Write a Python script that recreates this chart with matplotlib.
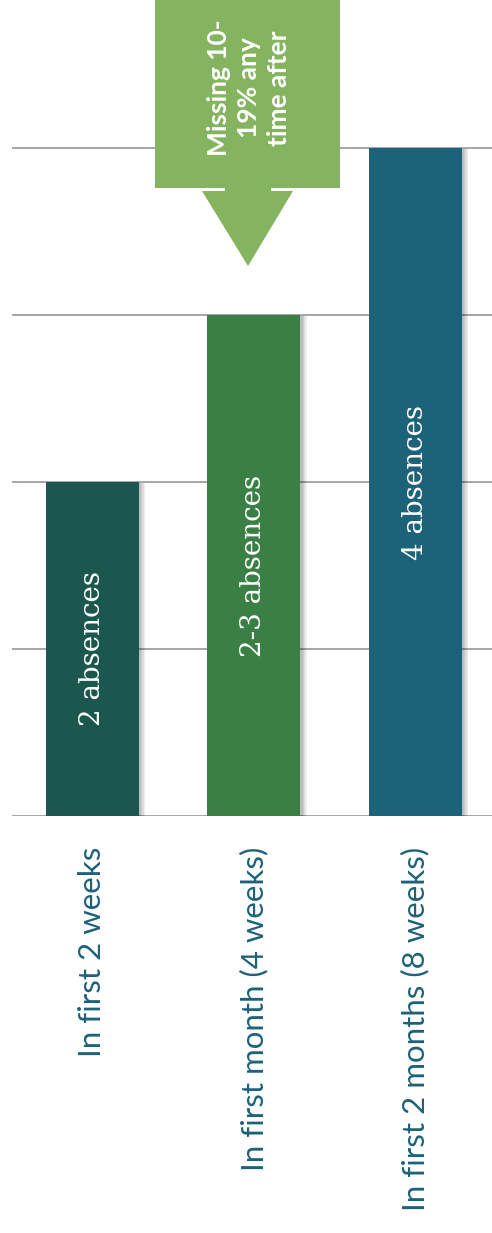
import matplotlib
matplotlib.use("Agg")
import matplotlib.pyplot as plt
import matplotlib.patheffects as pe
from matplotlib.patches import Polygon

categories = ["In first 2 weeks", "In first month (4 weeks)", "In first 2 months (8 weeks)"]
values = [2, 3, 4]
bar_labels = ["2 absences", "2-3 absences", "4 absences"]
bar_colors = ["#1B574F", "#3A8044", "#1C6279"]
callout_text = "Missing 10-\n19% any\ntime after"

W, H = 492, 1233
fig = plt.figure(figsize=(W / 100, H / 100), dpi=100)
ax = fig.add_axes([12 / W, (H - 816) / H, (W - 12) / W, 816 / H])
ax.set_xlim(-0.498, 2.474)
ax.set_ylim(0, 816 / 167)
for s in ax.spines.values():
    s.set_visible(False)
ax.set_xticks([])
ax.set_yticks([])

for g in [0, 1, 2, 3, 4]:
    ax.axhline(g, color="#A6A6A6", lw=1.4, zorder=1)

x = list(range(len(categories)))
bars = ax.bar(x, values, width=0.576, color=bar_colors, zorder=3)
shadow = [pe.SimplePatchShadow(offset=(o, -0.5), shadow_rgbFace="#000000", alpha=0.07)
          for o in (1.5, 2.5, 3.5, 4.5)]
for b in bars:
    b.set_path_effects(shadow + [pe.Normal()])

for i, (v, lab) in enumerate(zip(values, bar_labels)):
    ax.text(i, v / 2, lab, rotation=90, ha="center", va="center", color="white",
            fontsize=20, family="DejaVu Serif", zorder=5)

for i, c in enumerate(categories):
    ax.text(i, -0.186, c, rotation=90, ha="center", va="top", color="#1D6178",
            fontsize=22.5, family="Lato", zorder=5)

# callout arrow (figure pixel coordinates, y from top)
def fp(px, py):
    return (px / W, 1 - py / H)

green = "#84B45F"
rect = Polygon([fp(155, 0), fp(340, 0), fp(340, 188), fp(155, 188)], closed=True,
               transform=fig.transFigure, facecolor=green, edgecolor="none", zorder=10)
shaft = Polygon([fp(225, 187), fp(271, 187), fp(271, 192), fp(225, 192)], closed=True,
                transform=fig.transFigure, facecolor=green, edgecolor="none", zorder=10)
head = Polygon([fp(202, 191), fp(293, 191), fp(248, 266)], closed=True,
               transform=fig.transFigure, facecolor=green, edgecolor="none", zorder=10)
for p in (rect, shaft, head):
    fig.add_artist(p)

fig.text(249 / W, 1 - 88 / H, callout_text, rotation=90, ha="center", va="center",
         multialignment="center", color="white", fontsize=19, fontweight="bold",
         family="Lato", linespacing=1.32, zorder=11)

fig.savefig("out.png", dpi=100, facecolor="white")
